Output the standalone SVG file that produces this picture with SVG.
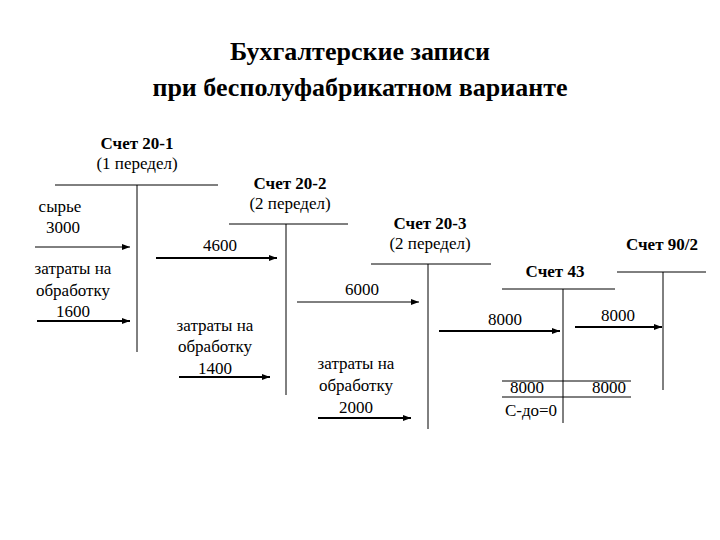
<svg xmlns="http://www.w3.org/2000/svg" width="720" height="540" viewBox="0 0 720 540">
<defs><marker id="a" markerWidth="8" markerHeight="6" refX="8" refY="3" orient="auto" markerUnits="userSpaceOnUse"><path d="M0,0L8,3L0,6z" fill="#000"/></marker></defs>
<style>text{font-family:"Liberation Serif",serif;font-size:17px;fill:#000;text-anchor:middle}.b{font-weight:bold}.t{font-size:26px;font-weight:bold}line{stroke:#000;stroke-width:1}.ar{stroke-width:2;marker-end:url(#a)}</style>
<rect width="720" height="540" fill="#fff"/>
<text class="t" x="360" y="60">Бухгалтерские записи</text>
<text class="t" x="360" y="96">при бесполуфабрикатном варианте</text>
<g id="acc20-1"><text class="b" x="137" y="149">Счет 20-1</text><text x="137" y="169">(1 передел)</text><line x1="55" y1="185" x2="218" y2="185"/><line x1="137" y1="185" x2="137" y2="352"/></g>
<g id="acc20-2"><text class="b" x="290" y="189">Счет 20-2</text><text x="290" y="209">(2 передел)</text><line x1="229" y1="224" x2="348" y2="224"/><line x1="286" y1="224" x2="286" y2="395"/></g>
<g id="acc20-3"><text class="b" x="430" y="229">Счет 20-3</text><text x="430" y="249">(2 передел)</text><line x1="371" y1="264" x2="491" y2="264"/><line x1="428" y1="264" x2="428" y2="429"/></g>
<g id="acc43"><text class="b" x="555" y="277">Счет 43</text><line x1="502" y1="289" x2="615" y2="289"/><line x1="563" y1="289" x2="563" y2="423"/><line x1="502" y1="381" x2="631" y2="381"/><line x1="502" y1="397" x2="631" y2="397"/><text x="527" y="393">8000</text><text x="609" y="393">8000</text><text x="531" y="416">С-до=0</text></g>
<g id="acc90-2"><text class="b" x="662" y="250">Счет 90/2</text><line x1="617" y1="272" x2="706" y2="272"/><line x1="663" y1="272" x2="663" y2="390"/></g>
<g id="labels"><text x="60" y="212">сырье</text><text x="63" y="233">3000</text><text x="73" y="274">затраты на</text><text x="73" y="296">обработку</text><text x="73" y="317">1600</text>
<text x="220" y="251">4600</text><text x="215" y="331">затраты на</text><text x="215" y="352">обработку</text><text x="215" y="374">1400</text>
<text x="362" y="295">6000</text><text x="356" y="369">затраты на</text><text x="356" y="391">обработку</text><text x="356" y="413">2000</text>
<text x="505" y="325">8000</text><text x="618" y="321">8000</text></g>
<g id="connectors"><line class="ar" x1="35" y1="247" x2="130" y2="247" style="stroke-width:1"/><line class="ar" x1="37" y1="321" x2="130" y2="321"/><line class="ar" x1="156" y1="258" x2="277" y2="258"/><line class="ar" x1="179" y1="377" x2="270" y2="377"/><line class="ar" x1="297" y1="302" x2="419" y2="302" style="stroke-width:1"/><line class="ar" x1="318" y1="418" x2="411" y2="418"/><line class="ar" x1="439" y1="331" x2="560" y2="331"/><line class="ar" x1="575" y1="327" x2="662" y2="327"/></g>
</svg>
